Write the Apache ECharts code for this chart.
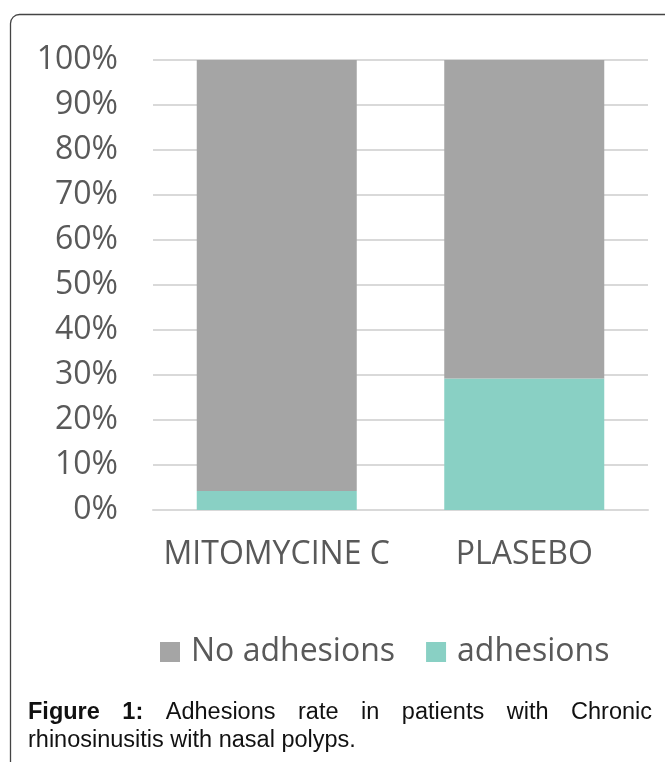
<!DOCTYPE html>
<html>
<head>
<meta charset="utf-8">
<script src="https://cdn.jsdelivr.net/npm/echarts@6/dist/echarts.min.js"></script>
<style>
html,body{margin:0;padding:0;background:#fff;}
#chart{width:665px;height:762px;}
</style>
</head>
<body>
<div id="chart"></div>
<script>
var categories = ['MITOMYCINE C', 'PLASEBO'];
var adhesions = [4.2, 29.2];
var noAdhesions = [95.8, 70.8];
var yTicks = [0, 10, 20, 30, 40, 50, 60, 70, 80, 90, 100];
var captionLine1 = [
  {t: 'Figure', b: true}, {t: '1:', b: true}, {t: 'Adhesions'}, {t: 'rate'},
  {t: 'in'}, {t: 'patients'}, {t: 'with'}, {t: 'Chronic'}
];
var captionLine2 = 'rhinosinusitis with nasal polyps.';

var chart = echarts.init(document.getElementById('chart'));

var capFont = 23.5;
var capFamily = '"Liberation Sans", Arial, sans-serif';
var ctx = document.createElement('canvas').getContext('2d');
function measure(w) {
  ctx.font = (w.b ? 'bold ' : '') + capFont + 'px ' + capFamily;
  return ctx.measureText(w.t).width;
}
var capLeft = 28, capRight = 652;
var widths = captionLine1.map(measure);
var totalW = widths.reduce(function (a, b) { return a + b; }, 0);
var gap = (capRight - capLeft - totalW) / (captionLine1.length - 1);
var graphics = [];
var cx = capLeft;
captionLine1.forEach(function (w, i) {
  graphics.push({
    type: 'text', left: cx, top: 722 - capFont * 0.9,
    style: {text: w.t, font: (w.b ? 'bold ' : '') + capFont + 'px ' + capFamily, fill: '#111'}
  });
  cx += widths[i] + gap;
});
graphics.push({
  type: 'text', left: capLeft, top: 750 - capFont * 0.9,
  style: {text: captionLine2, font: capFont + 'px ' + capFamily, fill: '#111'}
});
graphics.push({
  type: 'rect', left: 8, top: 12,
  shape: {x: 0, y: 0, width: 720, height: 800, r: [9, 0, 0, 0]},
  style: {fill: 'none', stroke: '#444', lineWidth: 1.3}
});

var labelFont = '"Open Sans", sans-serif';
chart.setOption({
  animation: false,
  legend: {
    data: ['No adhesions', 'adhesions'],
    left: 160, top: 636, padding: 0,
    itemWidth: 20, itemHeight: 20, itemGap: 31,
    icon: 'rect',
    textStyle: {fontFamily: labelFont, fontSize: 32, color: '#595959', padding: [0, 0, 0, 6]}
  },
  grid: {left: 153, right: 17, top: 60, bottom: 252},
  xAxis: {
    type: 'category', data: categories,
    axisLine: {show: true, lineStyle: {color: '#D9D9D9', width: 2}},
    axisTick: {show: false},
    axisLabel: {fontFamily: labelFont, fontSize: 32, color: '#595959', margin: 29, interval: 0}
  },
  yAxis: {
    type: 'value', min: 0, max: 100, interval: 10,
    axisLine: {show: false}, axisTick: {show: false},
    splitLine: {lineStyle: {color: '#D9D9D9', width: 2}},
    axisLabel: {fontFamily: labelFont, fontSize: 32, color: '#595959', margin: 35,
      formatter: function (v) { return yTicks.indexOf(v) >= 0 ? v + '%' : ''; }}
  },
  series: [
    {name: 'adhesions', type: 'bar', stack: 's', data: adhesions, barWidth: 160,
      itemStyle: {color: '#89D0C4'}},
    {name: 'No adhesions', type: 'bar', stack: 's', data: noAdhesions, barWidth: 160,
      itemStyle: {color: '#A5A5A5'}}
  ],
  graphic: graphics
});
</script>
</body>
</html>
